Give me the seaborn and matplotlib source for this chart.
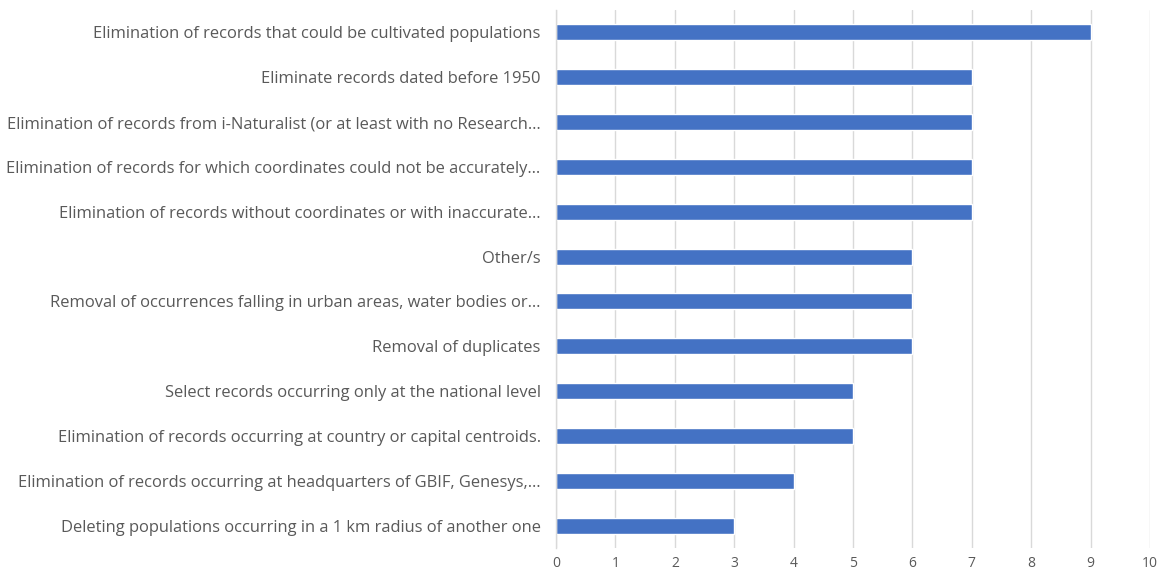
import matplotlib
matplotlib.use("Agg")
import matplotlib.pyplot as plt
import seaborn as sns
import pandas as pd

categories = [
    "Elimination of records that could be cultivated populations",
    "Eliminate records dated before 1950",
    "Elimination of records from i-Naturalist (or at least with no Research\u2026",
    "Elimination of records for which coordinates could not be accurately\u2026",
    "Elimination of records without coordinates or with inaccurate\u2026",
    "Other/s",
    "Removal of occurrences falling in urban areas, water bodies or\u2026",
    "Removal of duplicates",
    "Select records occurring only at the national level",
    "Elimination of records occurring at country or capital centroids.",
    "Elimination of records occurring at headquarters of GBIF, Genesys,\u2026",
    "Deleting populations occurring in a 1 km radius of another one",
]
counts = [9, 7, 7, 7, 7, 6, 6, 6, 5, 5, 4, 3]
x_ticks = list(range(0, 11))

df = pd.DataFrame({"step": categories, "count": counts})

sns.set_theme(style="white")
plt.rcParams["font.family"] = ["Open Sans", "DejaVu Sans"]

text_color = "#595959"
grid_color = "#D9D9D9"

fig = plt.figure(figsize=(11.62, 5.74), dpi=100)
ax = fig.add_axes([0.4785, 0.0453, 0.5112, 0.9373])

sns.barplot(data=df, y="step", x="count", orient="h", color="#4472C4",
            width=0.36, saturation=1, ax=ax)

ax.set_xlim(0, 10)
ax.set_ylim(11.5, -0.5)
ax.set_xticks(x_ticks)
ax.set_xticklabels([str(t) for t in x_ticks])
ax.xaxis.grid(True, color=grid_color, linewidth=1)
ax.set_axisbelow(True)
ax.set_xlabel("")
ax.set_ylabel("")

for side in ["top", "right", "bottom"]:
    ax.spines[side].set_visible(False)
ax.spines["left"].set_color(grid_color)
ax.spines["left"].set_linewidth(1)

ax.tick_params(axis="y", length=0, pad=11, labelsize=11.9, labelcolor=text_color)
ax.tick_params(axis="x", length=0, pad=6, labelsize=10, labelcolor=text_color)

fig.savefig("out.png", dpi=100)
